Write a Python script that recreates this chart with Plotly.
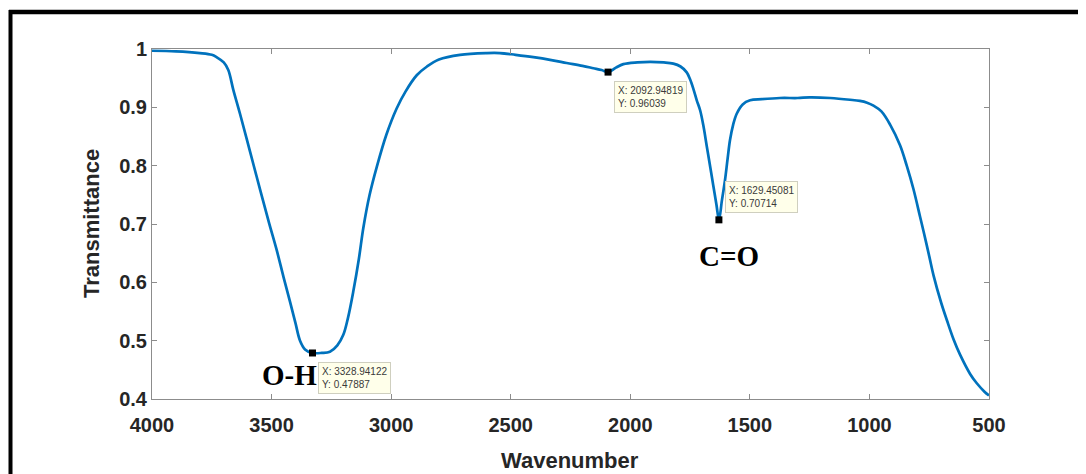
import plotly.graph_objects as go

# ---- data ----
wavenumber = [4000, 3900, 3800, 3750, 3730, 3700, 3681, 3660, 3632, 3590, 3548, 3510,
              3479, 3450, 3423, 3400, 3381, 3360, 3330, 3290, 3256, 3225, 3200, 3180,
              3158, 3135, 3116, 3090, 3060, 3020, 2977, 2940, 2893, 2850, 2800, 2712,
              2600, 2545, 2480, 2405, 2330, 2266, 2200, 2154, 2120, 2093, 2060, 2029,
              1970, 1917, 1860, 1820, 1790, 1764, 1750, 1735, 1722, 1708, 1695, 1680,
              1665, 1653, 1640, 1629, 1617, 1604, 1593, 1583, 1570, 1555, 1530, 1499,
              1450, 1374, 1300, 1250, 1164, 1081, 1040, 1010, 983, 950, 913, 872, 844,
              816, 788, 774, 750, 732, 700, 676, 648, 621, 579, 551, 520, 500]
transmittance = [0.997, 0.996, 0.993, 0.990, 0.986, 0.977, 0.964, 0.930, 0.889, 0.824,
                 0.759, 0.701, 0.656, 0.609, 0.567, 0.530, 0.500, 0.485, 0.479, 0.479,
                 0.481, 0.492, 0.510, 0.540, 0.585, 0.640, 0.694, 0.750, 0.798, 0.853,
                 0.898, 0.927, 0.955, 0.970, 0.982, 0.990, 0.993, 0.993, 0.990, 0.986,
                 0.981, 0.976, 0.971, 0.967, 0.964, 0.960, 0.968, 0.974, 0.977, 0.978,
                 0.977, 0.975, 0.970, 0.960, 0.948, 0.930, 0.912, 0.895, 0.870, 0.833,
                 0.796, 0.766, 0.734, 0.707, 0.740, 0.775, 0.812, 0.844, 0.870, 0.889,
                 0.905, 0.912, 0.914, 0.916, 0.916, 0.917, 0.916, 0.913, 0.911, 0.908,
                 0.903, 0.893, 0.870, 0.835, 0.800, 0.760, 0.712, 0.688, 0.645, 0.612,
                 0.565, 0.535, 0.502, 0.476, 0.443, 0.427, 0.413, 0.406]

tip_x = [3328.94122, 2092.94819, 1629.45081]
tip_y = [0.47887, 0.96039, 0.70714]

group_labels = ["O-H", "C=O"]
group_x = [3423, 1587]
group_y = [0.441, 0.645]

x_ticks = [4000, 3500, 3000, 2500, 2000, 1500, 1000, 500]
y_ticks = [0.4, 0.5, 0.6, 0.7, 0.8, 0.9, 1.0]
y_ticktext = ["0.4", "0.5", "0.6", "0.7", "0.8", "0.9", "1"]

# ---- figure (page body has an 8px margin, so work in shifted pixels) ----
OFF = 8
W, H = 1086 - OFF, 474 - OFF
plot_left, plot_right, plot_top, plot_bottom = 152 - OFF, 989 - OFF, 49 - OFF, 399 - OFF
L, R, T, B = plot_left, W - plot_right, plot_top, H - plot_bottom
pw, ph = plot_right - plot_left, plot_bottom - plot_top

def px_to_paper_x(px):
    return (px - OFF - plot_left) / pw

def px_to_paper_y(py):
    return (plot_bottom - (py - OFF)) / ph

fig = go.Figure()
fig.add_trace(go.Scatter(x=wavenumber, y=transmittance, mode="lines",
                         line=dict(color="#0072BD", width=2.7, shape="spline", smoothing=1.0),
                         hoverinfo="skip", showlegend=False))
fig.add_trace(go.Scatter(x=tip_x, y=tip_y, mode="markers",
                         marker=dict(symbol="square", size=7, color="black"),
                         showlegend=False))

tick_font = dict(family="Arial", size=20, color="#262626", weight="bold")
axis_common = dict(showline=True, linecolor="#8c8c8c", linewidth=1, mirror="ticks",
                   ticks="inside", ticklen=5, tickcolor="#8c8c8c", showgrid=False,
                   zeroline=False, tickfont=tick_font)

fig.update_xaxes(range=[4000, 500], tickvals=x_ticks, ticklabelstandoff=8, **axis_common)
fig.update_yaxes(range=[0.4, 1.0], tickvals=y_ticks, ticktext=y_ticktext, **axis_common)

annotations = []
# datatips
tip_layout = [("left", "top", 6, -9), ("left", "top", 6, -9), ("left", "bottom", 6, 7)]
for (xv, yv), (xa, ya, xs, ys) in zip(zip(tip_x, tip_y), tip_layout):
    annotations.append(dict(x=xv, y=yv, xref="x", yref="y", showarrow=False,
                            text=f"X: {xv:.5f}<br>Y: {yv:.5f}", align="left",
                            xanchor=xa, yanchor=ya, xshift=xs, yshift=ys,
                            font=dict(family="Arial", size=10, color="#3a3a3a"),
                            bgcolor="#FFFFEA", bordercolor="#CFCFBF", borderwidth=1,
                            borderpad=3))
# functional group labels
for lab, xv, yv in zip(group_labels, group_x, group_y):
    annotations.append(dict(x=xv, y=yv, xref="x", yref="y", showarrow=False, text=lab,
                            xanchor="center", yanchor="middle",
                            font=dict(family="Liberation Serif", size=29, color="black",
                                      weight="bold")))
# axis titles
annotations.append(dict(x=px_to_paper_x(570), y=px_to_paper_y(460), xref="paper", yref="paper",
                        showarrow=False, text="Wavenumber", xanchor="center", yanchor="middle",
                        font=dict(family="Arial", size=22, color="#262626", weight="bold")))
annotations.append(dict(x=px_to_paper_x(91), y=px_to_paper_y(224), xref="paper", yref="paper",
                        showarrow=False, text="Transmittance", textangle=-90,
                        xanchor="center", yanchor="middle",
                        font=dict(family="Arial", size=22, color="#262626", weight="bold")))

shapes = [
    dict(type="line", xref="paper", yref="paper", x0=px_to_paper_x(9), x1=px_to_paper_x(1095),
         y0=px_to_paper_y(12), y1=px_to_paper_y(12), line=dict(color="black", width=4.5)),
    dict(type="line", xref="paper", yref="paper", x0=px_to_paper_x(10.5), x1=px_to_paper_x(10.5),
         y0=px_to_paper_y(10), y1=px_to_paper_y(490), line=dict(color="black", width=4)),
]

fig.update_layout(width=W, height=H, margin=dict(l=L, r=R, t=T, b=B, autoexpand=False),
                  paper_bgcolor="white", plot_bgcolor="white",
                  annotations=annotations, shapes=shapes, showlegend=False)

fig.write_html("out.html")
